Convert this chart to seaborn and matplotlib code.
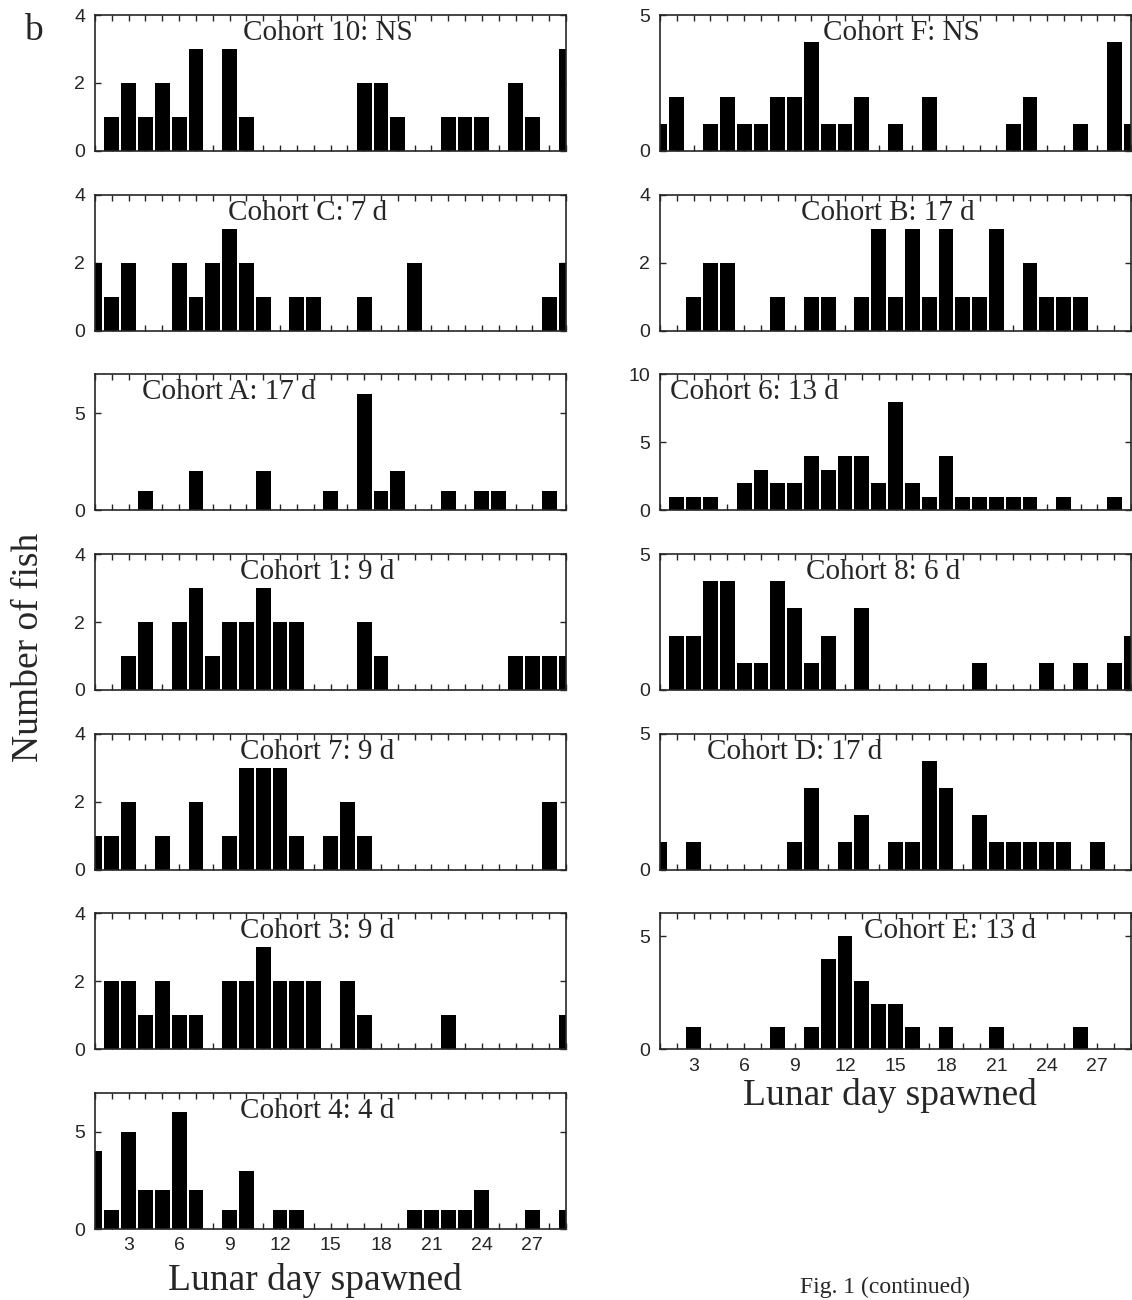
import numpy as np
import pandas as pd
import matplotlib
matplotlib.use('Agg')
import matplotlib.pyplot as plt
import seaborn as sns

sns.set_style('ticks')
plt.rcParams['font.family'] = ['Liberation Sans', 'DejaVu Sans']

# lunar days 1..29
days = list(range(1, 30))

# left column, top to bottom
cohort_10 = [0,1,2,1,2,1,3,0,3,1,0,0,0,0,0,0,2,2,1,0,0,1,1,1,0,2,1,0,3]
cohort_c  = [2,1,2,0,0,2,1,2,3,2,1,0,1,1,0,0,1,0,0,2,0,0,0,0,0,0,0,1,2]
cohort_a  = [0,0,0,1,0,0,2,0,0,0,2,0,0,0,1,0,6,1,2,0,0,1,0,1,1,0,0,1,0]
cohort_1  = [0,0,1,2,0,2,3,1,2,2,3,2,2,0,0,0,2,1,0,0,0,0,0,0,0,1,1,1,1]
cohort_7  = [1,1,2,0,1,0,2,0,1,3,3,3,1,0,1,2,1,0,0,0,0,0,0,0,0,0,0,2,0]
cohort_3  = [0,2,2,1,2,1,1,0,2,2,3,2,2,2,0,2,1,0,0,0,0,1,0,0,0,0,0,0,1]
cohort_4  = [4,1,5,2,2,6,2,0,1,3,0,1,1,0,0,0,0,0,0,1,1,1,1,2,0,0,1,0,1]

# right column, top to bottom
cohort_f  = [1,2,0,1,2,1,1,2,2,4,1,1,2,0,1,0,2,0,0,0,0,1,2,0,0,1,0,4,1]
cohort_b  = [0,0,1,2,2,0,0,1,0,1,1,0,1,3,1,3,1,3,1,1,3,0,2,1,1,1,0,0,0]
cohort_6  = [0,1,1,1,0,2,3,2,2,4,3,4,4,2,8,2,1,4,1,1,1,1,1,0,1,0,0,1,0]
cohort_8  = [0,2,2,4,4,1,1,4,3,1,2,0,3,0,0,0,0,0,0,1,0,0,0,1,0,1,0,1,2]
cohort_d  = [1,0,1,0,0,0,0,0,1,3,0,1,2,0,1,1,4,3,0,2,1,1,1,1,1,0,1,0,0]
cohort_e  = [0,0,1,0,0,0,0,1,0,1,4,5,3,2,2,1,0,1,0,0,1,0,0,0,0,1,0,0,0]

left_labels = ['Cohort 10: NS', 'Cohort C: 7 d', 'Cohort A: 17 d', 'Cohort 1: 9 d',
               'Cohort 7: 9 d', 'Cohort 3: 9 d', 'Cohort 4: 4 d']
right_labels = ['Cohort F: NS', 'Cohort B: 17 d', 'Cohort 6: 13 d', 'Cohort 8: 6 d',
                'Cohort D: 17 d', 'Cohort E: 13 d']
left_counts = [cohort_10, cohort_c, cohort_a, cohort_1, cohort_7, cohort_3, cohort_4]
right_counts = [cohort_f, cohort_b, cohort_6, cohort_8, cohort_d, cohort_e]

# y axis top and tick values per panel
left_ymax = [4, 4, 7, 4, 4, 4, 7]
left_yticks = [[0, 2, 4], [0, 2, 4], [0, 5], [0, 2, 4], [0, 2, 4], [0, 2, 4], [0, 5]]
right_ymax = [5, 4, 10, 5, 5, 6]
right_yticks = [[0, 5], [0, 2, 4], [0, 5, 10], [0, 5], [0, 5], [0, 5]]

# horizontal position (axes fraction) of each cohort label
left_lx = [0.494, 0.452, 0.284, 0.471, 0.471, 0.471, 0.471]
right_lx = [0.512, 0.483, 0.201, 0.474, 0.286, 0.616]

serif = ['Liberation Serif', 'DejaVu Serif']

fig, axes = plt.subplots(7, 2, figsize=(11.32, 13), dpi=100)
fig.subplots_adjust(left=95/1132, right=1131/1132, top=1-15/1300,
                    bottom=1-1229/1300, wspace=94/471, hspace=43.7/136)
axes[6, 1].remove()


def draw(ax, counts, label, ymax, yticks, lx, show_x):
    df = pd.DataFrame({'day': days, 'n': counts})
    sns.barplot(data=df, x='day', y='n', native_scale=True, color='black',
                width=0.88, saturation=1, linewidth=0, errorbar=None, ax=ax)
    ax.set_xlim(1, 29)
    ax.set_ylim(0, ymax)
    ax.set_yticks(yticks)
    ax.set_xticks(range(3, 28, 3))
    ax.set_xticks(days, minor=True)
    ax.set_xlabel('')
    ax.set_ylabel('')
    ax.tick_params(axis='both', which='both', direction='in', top=True,
                   right=True, length=4, width=1, labelsize=14)
    ax.tick_params(axis='x', pad=6)
    ax.tick_params(axis='y', pad=7)
    if not show_x:
        ax.tick_params(axis='x', labelbottom=False)
    for s in ax.spines.values():
        s.set_linewidth(1.2)
    ax.text(lx, 0.816, label, transform=ax.transAxes, ha='center',
            va='baseline', fontsize=21, family=serif)


for i in range(7):
    draw(axes[i, 0], left_counts[i], left_labels[i], left_ymax[i],
         left_yticks[i], left_lx[i], i == 6)
for i in range(6):
    draw(axes[i, 1], right_counts[i], right_labels[i], right_ymax[i],
         right_yticks[i], right_lx[i], i == 5)

fig.text(33/1132, 1-40/1300, 'b', fontsize=27, family=serif, ha='center', va='baseline')
fig.text(29/1132, 1-647/1300, 'Number of fish', fontsize=27, family=serif,
         rotation=90, ha='center', va='center')
fig.text(315/1132, 1-1290/1300, 'Lunar day spawned', fontsize=27, family=serif,
         ha='center', va='baseline')
fig.text(890/1132, 1-1105/1300, 'Lunar day spawned', fontsize=27, family=serif,
         ha='center', va='baseline')
fig.text(885/1132, 1-1293/1300, 'Fig. 1 (continued)', fontsize=17, family=serif,
         ha='center', va='baseline')

plt.savefig('out.png', dpi=100)
